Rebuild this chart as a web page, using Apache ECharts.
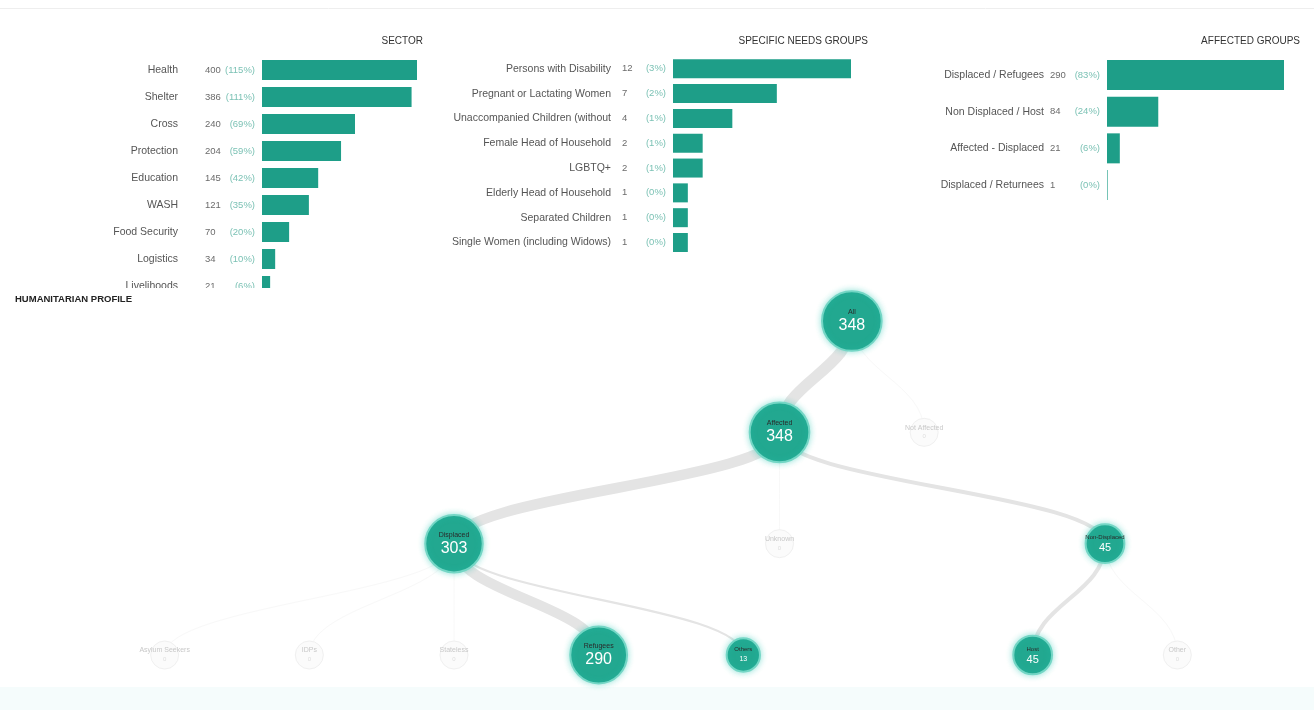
<!DOCTYPE html>
<html><head><meta charset="utf-8">
<script src="https://cdn.jsdelivr.net/npm/echarts@6/dist/echarts.min.js"></script>
<style>html,body{margin:0;padding:0;background:#fff}#c{width:1314px;height:710px}</style>
</head><body><div id="c"></div>
<script>
// ---- data ----
const sectorNames = ['Health','Shelter','Cross','Protection','Education','WASH','Food Security','Logistics','Livelihoods'];
const sectorValues = [400,386,240,204,145,121,70,34,21];
const sectorPct = [115,111,69,59,42,35,20,10,6];

const needsNames = ['Persons with Disability','Pregnant or Lactating Women','Unaccompanied Children (without','Female Head of Household','LGBTQ+','Elderly Head of Household','Separated Children','Single Women (including Widows)'];
const needsValues = [12,7,4,2,2,1,1,1];
const needsPct = [3,2,1,1,1,0,0,0];

const groupNames = ['Displaced / Refugees','Non Displaced / Host','Affected - Displaced','Displaced / Returnees'];
const groupValues = [290,84,21,1];
const groupPct = [83,24,6,0];

const treeNames = ['All','Affected','Not Affected','Displaced','Unknown','Non-Displaced','Asylum Seekers','IDPs','Stateless','Refugees','Others','Host','Other'];
const treeValues = [348,348,0,303,0,45,0,0,0,290,13,45,0];
const treeParents = [-1,0,0,1,1,1,3,3,3,3,3,5,5];

const FONT = '"Liberation Sans", Arial, sans-serif';
const TEAL = '#1e9e88';

function buildNode(i) {
  const v = treeValues[i];
  const active = v > 0;
  const size = active ? 27 + 1.75 * Math.sqrt(v) : 28;
  const big = size > 45;
  const node = {
    name: treeNames[i],
    value: v,
    symbolSize: size,
    itemStyle: active
      ? {color: '#22a890', borderColor: '#74d6c5', borderWidth: 2, shadowBlur: 6, shadowColor: 'rgba(40,200,180,0.45)'}
      : {color: '#fbfbfb', borderColor: '#f0f0f0', borderWidth: 1},
    lineStyle: active
      ? {color: '#e4e4e4', width: 0.6 * Math.sqrt(v), curveness: 0.45}
      : {color: '#f8f8f8', width: 1, curveness: 0.45},
    label: {
      show: true, position: 'inside',
      formatter: '{n|' + treeNames[i] + '}\n{v|' + v + '}',
      rich: active
        ? {n: {fontSize: big ? 7 : 6, color: '#2a2a2a', fontFamily: FONT, lineHeight: 9},
           v: {fontSize: big ? 16 : (size > 34 ? 11 : 7), color: '#ffffff', fontFamily: FONT, lineHeight: big ? 18 : 12}}
        : {n: {fontSize: 7, color: '#c8c8c8', fontFamily: FONT, lineHeight: 9},
           v: {fontSize: 6, color: '#dedede', fontFamily: FONT, lineHeight: 9}}
    },
    children: []
  };
  treeParents.forEach((p, j) => { if (p === i) node.children.push(buildNode(j)); });
  return node;
}
const treeRoot = buildNode(0);

function barBlock(idx, names, values, pct, box, margin, barW, numW, pctW) {
  return {
    grid: {left: box.left, width: box.width, top: box.top, height: box.height},
    xAxis: {type: 'value', gridIndex: idx, min: 0, max: 'dataMax', show: false},
    yAxis: {type: 'category', gridIndex: idx, data: names, inverse: true,
      axisLine: {show: false}, axisTick: {show: false}, splitLine: {show: false},
      axisLabel: {margin: margin, fontSize: 10.5, color: '#555', fontFamily: FONT}},
    series: {type: 'bar', xAxisIndex: idx, yAxisIndex: idx, data: values, barWidth: barW,
      itemStyle: {color: TEAL}, silent: true,
      label: {show: true, position: 'left', distance: 7,
        formatter: p => '{a|' + values[p.dataIndex] + '}{b|(' + pct[p.dataIndex] + '%)}',
        rich: {a: {width: numW, align: 'left', fontSize: 9.5, color: '#6b6b6b', fontFamily: FONT},
               b: {width: pctW, align: 'right', fontSize: 9.5, color: '#7cc2b5', fontFamily: FONT}}}}
  };
}
const b1 = barBlock(0, sectorNames, sectorValues, sectorPct, {left: 262, width: 155, top: 56.5, height: 243}, 84, 20, 22, 28);
const b2 = barBlock(1, needsNames, needsValues, needsPct, {left: 673, width: 178, top: 56.4, height: 198.5}, 62, 19, 20, 24);
const b3 = barBlock(2, groupNames, groupValues, groupPct, {left: 1107, width: 177, top: 56.6, height: 146.8}, 63, 30, 22, 28);

const chart = echarts.init(document.getElementById('c'), null, {renderer: 'canvas'});
chart.setOption({
  animation: false,
  backgroundColor: '#ffffff',
  textStyle: {fontFamily: FONT},
  grid: [b1.grid, b2.grid, b3.grid],
  xAxis: [b1.xAxis, b2.xAxis, b3.xAxis],
  yAxis: [b1.yAxis, b2.yAxis, b3.yAxis],
  series: [b1.series, b2.series, b3.series, {
    type: 'tree', data: [treeRoot], orient: 'TB',
    left: 20, width: 1302, top: 321, bottom: 55,
    symbol: 'circle', edgeShape: 'curve',
    expandAndCollapse: false, initialTreeDepth: -1, roam: false, silent: true,
    lineStyle: {color: '#e4e4e4', curveness: 0.45},
    label: {position: 'inside'},
    leaves: {label: {position: 'inside'}},
    emphasis: {disabled: true}
  }],
  graphic: [
    {type: 'rect', z: -10, shape: {x: 0, y: 687, width: 1314, height: 23}, style: {fill: '#f5fcfc'}},
    {type: 'line', z: 10, shape: {x1: 0, y1: 8.5, x2: 1314, y2: 8.5}, style: {stroke: '#eeeeee', lineWidth: 1}},
    {type: 'rect', z: 100, shape: {x: 0, y: 288, width: 440, height: 18}, style: {fill: '#ffffff'}},
    {type: 'rect', z: 100, shape: {x: 428, y: 100, width: 24, height: 160}, style: {fill: '#ffffff'}},
    {type: 'text', z: 101, style: {text: 'HUMANITARIAN PROFILE', x: 15, y: 299, verticalAlign: 'middle', fill: '#222', font: 'bold 9.5px ' + FONT}},
    {type: 'text', z: 101, style: {text: 'SECTOR', x: 423, y: 41, align: 'right', verticalAlign: 'middle', fill: '#333', font: '10px ' + FONT}},
    {type: 'text', z: 101, style: {text: 'SPECIFIC NEEDS GROUPS', x: 868, y: 41, align: 'right', verticalAlign: 'middle', fill: '#333', font: '10px ' + FONT}},
    {type: 'text', z: 101, style: {text: 'AFFECTED GROUPS', x: 1300, y: 41, align: 'right', verticalAlign: 'middle', fill: '#333', font: '10px ' + FONT}}
  ]
});
</script>
</body></html>
